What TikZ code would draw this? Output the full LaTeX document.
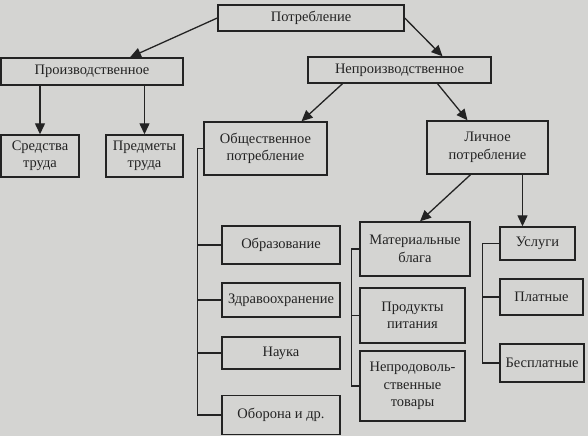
\documentclass[tikz,border=0pt]{standalone}
\usepackage{fontspec}
\setmainfont{Liberation Serif}
\usepackage{xcolor}
\usetikzlibrary{arrows.meta, positioning}
\definecolor{paper}{RGB}{212,212,210}
\definecolor{ink}{RGB}{35,35,35}
\begin{document}
\begin{tikzpicture}[x=1pt,y=-1pt,
  box/.style={draw=ink,line width=1.4pt,align=center,inner sep=1pt,
    font=\fontsize{14.5}{17.5}\selectfont,text=ink},
  arr/.style={draw=ink,line width=1.3pt,-{Triangle[length=11pt,width=10pt]}},
  tree/.style={draw=ink,line width=1.3pt}]
  \fill[paper] (0,0) rectangle (588,436);
  \useasboundingbox (0,0) rectangle (588,436);
  % top level
  \node[box,minimum width=186pt,minimum height=26pt] (potr) at (311,18) {Потребление};
  \node[box,minimum width=182pt,minimum height=27pt] (proizv) at (92,71.5) {Производственное};
  \node[box,minimum width=183pt,minimum height=26pt] (neproizv) at (399.5,70) {Непроизводственное};
  % productive
  \node[box,minimum width=78pt,minimum height=42pt] (sredstva) at (40,156) {Средства\\труда};
  \node[box,minimum width=77pt,minimum height=42pt] (predmety) at (144.5,156) {Предметы\\труда};
  % non-productive
  \node[box,minimum width=123pt,minimum height=53pt] (obsh) at (265.5,148.5) {Общественное\\потребление};
  \node[box,minimum width=121pt,minimum height=53pt] (lichn) at (487.5,147.5) {Личное\\потребление};
  % public consumption
  \node[box,minimum width=118pt,minimum height=38pt] (obraz) at (281,245) {Образование};
  \node[box,minimum width=118pt,minimum height=34pt] (zdrav) at (281,300) {Здравоохранение};
  \node[box,minimum width=118pt,minimum height=32pt] (nauka) at (281,353) {Наука};
  \node[box,minimum width=118pt,minimum height=39pt] (oborona) at (281,415) {Оборона и др.};
  % personal consumption
  \node[box,minimum width=110pt,minimum height=54pt] (mater) at (415,249) {Материальные\\блага};
  \node[box,minimum width=105pt,minimum height=55pt] (prod) at (412.5,315.5) {Продукты\\питания};
  \node[box,minimum width=105pt,minimum height=70pt] (neprod) at (412.5,386) {Непродоволь-\\ственные\\товары};
  \node[box,minimum width=75pt,minimum height=33pt] (uslugi) at (537.5,243.5) {Услуги};
  \node[box,minimum width=83pt,minimum height=36pt] (platn) at (541.5,297) {Платные};
  \node[box,minimum width=84pt,minimum height=38pt] (besplatn) at (542,363) {Бесплатные};
  % arrows
  \draw[arr] (potr.west) -- ([xshift=38pt]proizv.north);
  \draw[arr] (potr.east) -- ([xshift=43pt]neproizv.north);
  \draw[arr] (proizv.south -| sredstva.north) -- (sredstva.north);
  \draw[arr] (proizv.south -| predmety.north) -- (predmety.north);
  \draw[arr] ([xshift=-57pt]neproizv.south) -- ([xshift=36pt]obsh.north);
  \draw[arr] ([xshift=38pt]neproizv.south) -- ([xshift=-20pt]lichn.north);
  \draw[arr] ([xshift=-17pt]lichn.south) -- ([xshift=5pt]mater.north);
  \draw[arr] ([xshift=-15pt]uslugi.north |- lichn.south) -- ([xshift=-15pt]uslugi.north);
  % brackets
  \foreach \kid in {obraz,zdrav,nauka,oborona}
    \draw[tree] (obsh.west) -- ++(-6,0) |- (\kid.west);
  \foreach \kid in {prod,neprod}
    \draw[tree] (mater.west) -- ++(-8,0) |- (\kid.west);
  \foreach \kid in {platn,besplatn}
    \draw[tree] (uslugi.west) -- ++(-17,0) |- (\kid.west);
\end{tikzpicture}
\end{document}
